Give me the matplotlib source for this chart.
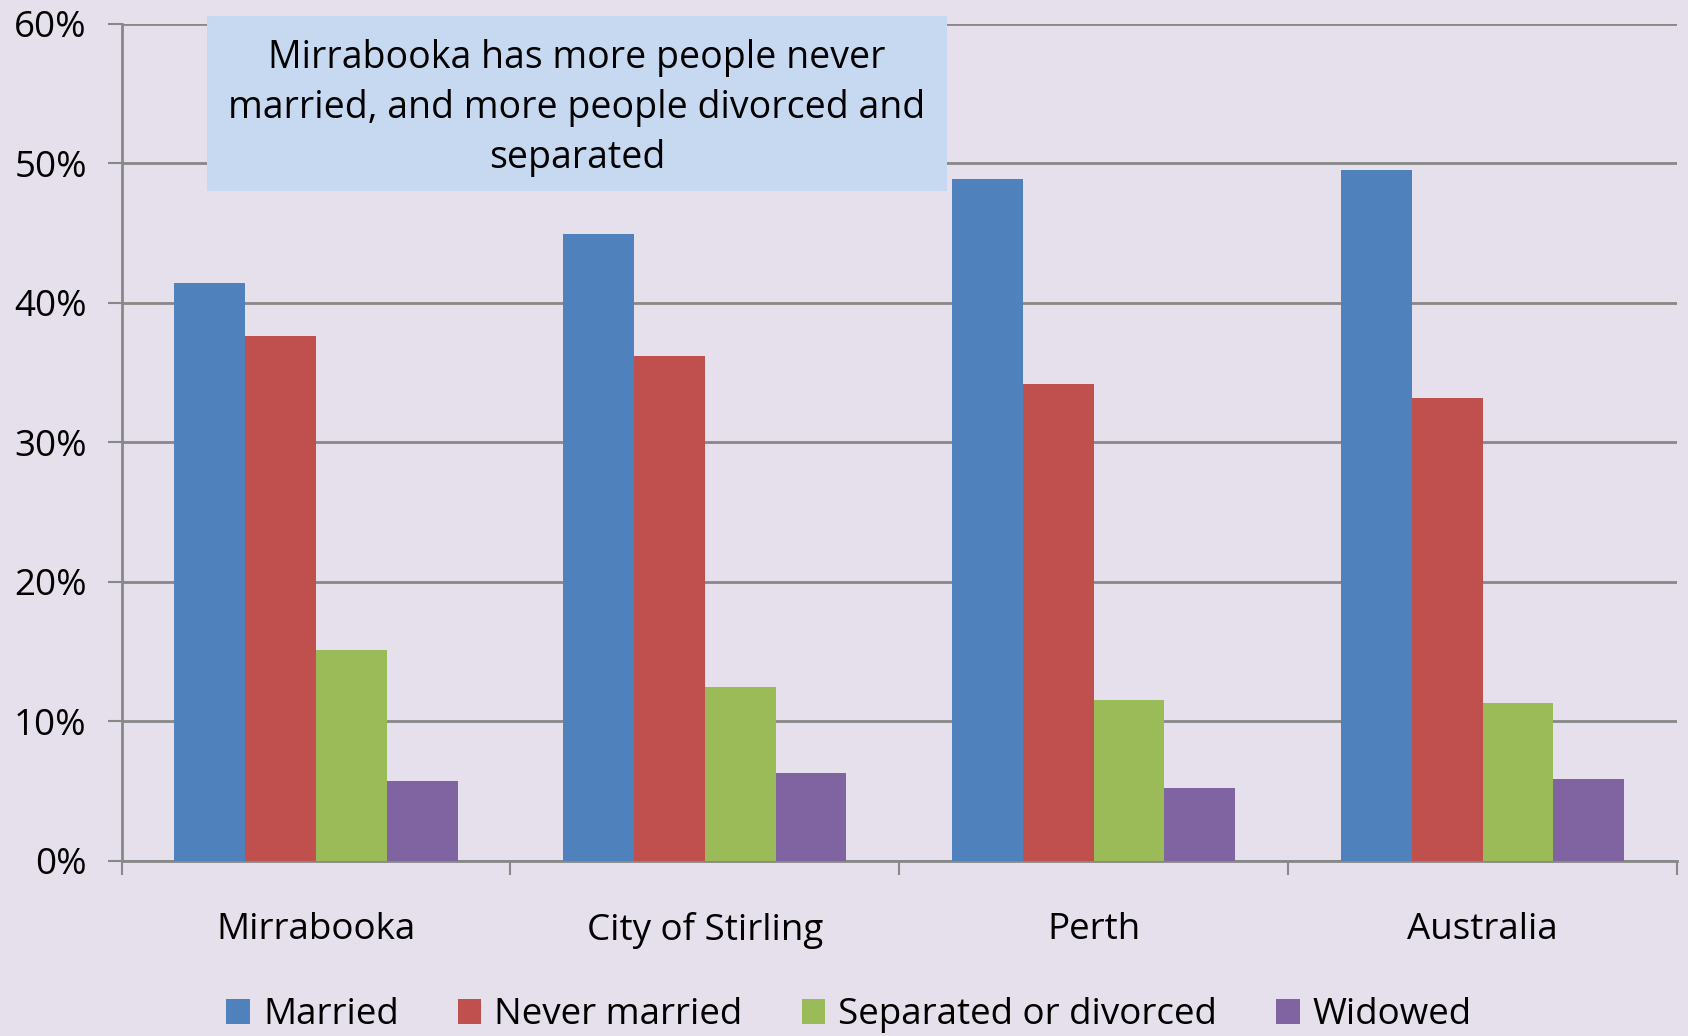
import numpy as np
import matplotlib
matplotlib.use('Agg')
import matplotlib.pyplot as plt
from matplotlib.patches import Rectangle
from matplotlib.ticker import FuncFormatter, FixedLocator

# 数据
areas = ['Mirrabooka', 'City of Stirling', 'Perth', 'Australia']
series = ['Married', 'Never married', 'Separated or divorced', 'Widowed']
married = [41.4, 44.9, 48.9, 49.5]
never_married = [37.6, 36.2, 34.2, 33.2]
separated = [15.1, 12.5, 11.5, 11.3]
widowed = [5.7, 6.3, 5.2, 5.9]
note = 'Mirrabooka has more people never\nmarried, and more people divorced and\nseparated'

colors = ['#4F81BD', '#C0504D', '#9BBB59', '#8064A2']
bg = '#E5E0EC'
grid_c = '#888888'

plt.rcParams['font.family'] = ['Open Sans', 'DejaVu Sans']

fig = plt.figure(figsize=(16.88, 10.36), dpi=100, facecolor=bg)
ax = fig.add_axes([0.072, 0.169, 0.9215, 0.808])
ax.set_facecolor(bg)

x = np.arange(len(areas))
w = 0.182
vals = [married, never_married, separated, widowed]
for i, (name, v) in enumerate(zip(series, vals)):
  ax.bar(x + (i - 1.5) * w, v, w, color=colors[i], label=name, zorder=3, linewidth=0)

ax.set_xlim(-0.5, len(areas) - 0.5)
ax.set_ylim(0, 60)
ax.set_yticks(np.arange(0, 61, 10))
ax.yaxis.set_major_formatter(FuncFormatter(lambda v, p: '%d%%' % v))
ax.yaxis.grid(True, color=grid_c, linewidth=2, zorder=0)
ax.tick_params(axis='y', length=10, width=1.5, color=grid_c, labelsize=26.5, pad=15)

# 类目边界刻度 + 居中标签
ax.xaxis.set_major_locator(FixedLocator(np.arange(-0.5, len(areas), 1)))
ax.xaxis.set_major_formatter(FuncFormatter(lambda v, p: ''))
ax.xaxis.set_minor_locator(FixedLocator(x))
ax.set_xticklabels(areas, minor=True)
ax.tick_params(axis='x', which='major', length=10, width=1.5, color=grid_c)
ax.tick_params(axis='x', which='minor', length=0, labelsize=26.5, pad=37)

for s in ['top', 'right']:
  ax.spines[s].set_visible(False)
for s in ['left', 'bottom']:
  ax.spines[s].set_color(grid_c)
  ax.spines[s].set_linewidth(2)

# 说明框
fig.patches.append(Rectangle((0.1226, 0.8156), 0.4384, 0.169, transform=fig.transFigure,
                             facecolor='#C6D9F1', edgecolor='none', zorder=5))
fig.text(0.3418, 0.896, note, ha='center', va='center', fontsize=27,
         linespacing=1.42, zorder=6)

fig.legend(loc='center', bbox_to_anchor=(0.503, 0.02), ncol=4, frameon=False,
           fontsize=26.5, handlelength=0.65, handleheight=0.65,
           handletextpad=0.35, columnspacing=1.6, borderpad=0.1)

plt.savefig('out.png', dpi=100, facecolor=bg)
